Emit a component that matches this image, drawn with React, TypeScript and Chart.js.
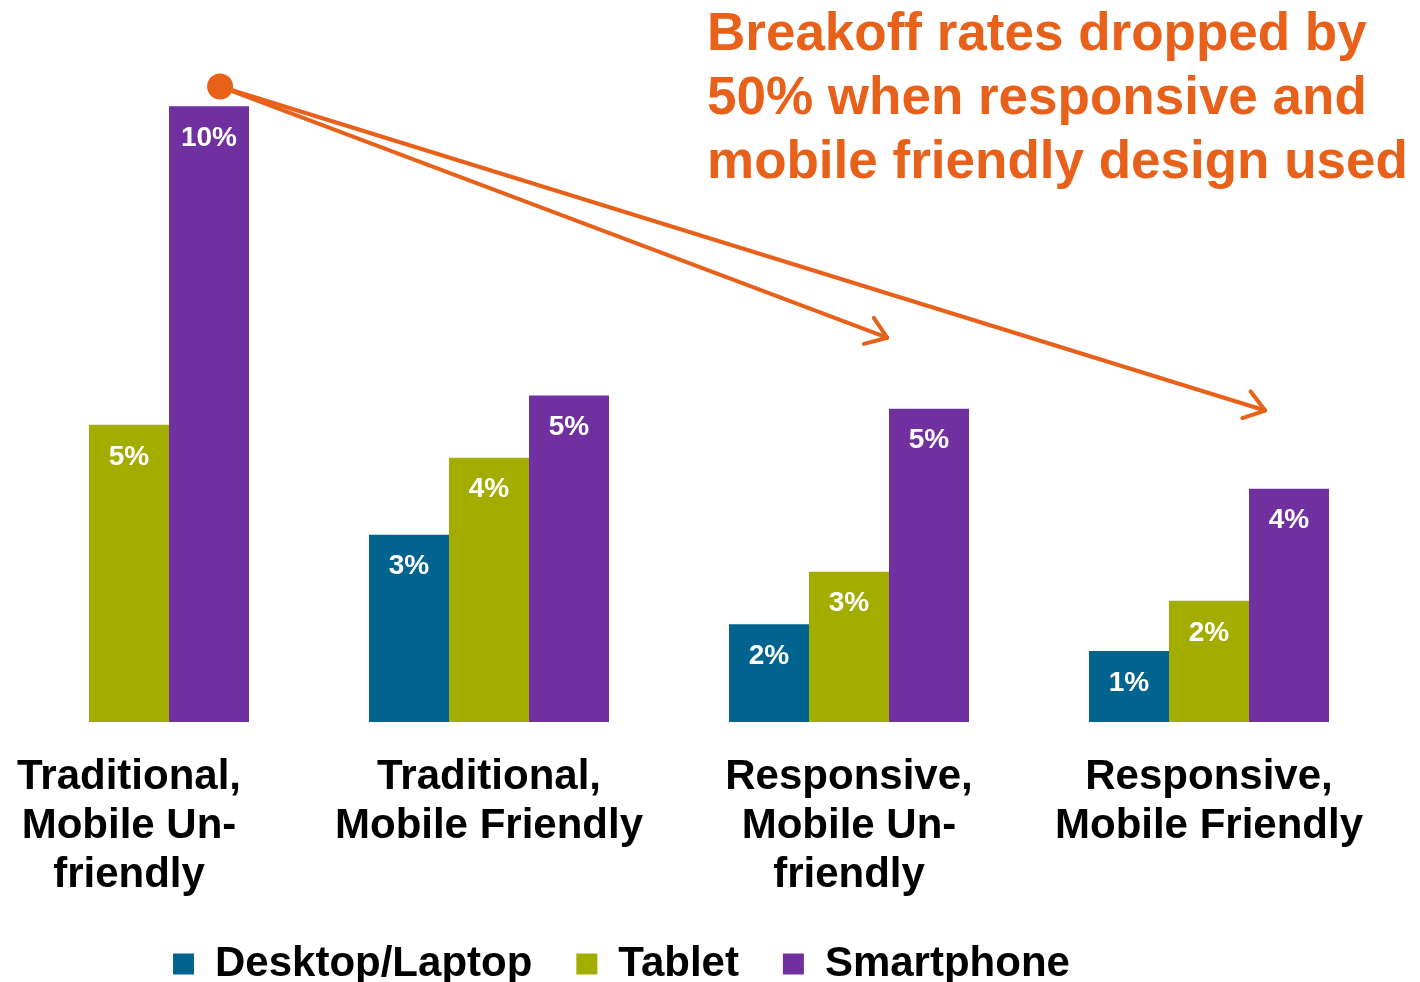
import React, { useEffect, useRef } from 'react';
import { Chart, registerables } from 'chart.js';

Chart.register(...registerables);

const FONT = "'Liberation Sans', Arial, Helvetica, sans-serif";
const ORANGE = '#E8611A';

const categories: string[][] = [
  ['Traditional,', 'Mobile Un-', 'friendly'],
  ['Traditional,', 'Mobile Friendly'],
  ['Responsive,', 'Mobile Un-', 'friendly'],
  ['Responsive,', 'Mobile Friendly'],
];
const seriesNames = ['Desktop/Laptop', 'Tablet', 'Smartphone'];
const desktopValues = [null, 3.14, 1.64, 1.19];
const tabletValues = [4.98, 4.43, 2.52, 2.03];
const smartphoneValues = [10.32, 5.47, 5.25, 3.91];
const seriesColors = ['#00648F', '#A2AD00', '#7030A0'];

const titleLines = [
  'Breakoff rates dropped by',
  '50% when responsive and',
  'mobile friendly design used',
];
// annotation anchors in data space: [category index (fractional), value]
const arrowStart = [0.253, 10.65];
const arrowTargets = [
  [2.106, 6.44],
  [3.156, 5.22],
];

const overlayPlugin = {
  id: 'overlay',
  afterDatasetsDraw(chart: any) {
    const ctx = chart.ctx;
    ctx.save();
    ctx.fillStyle = '#ffffff';
    ctx.font = `bold 28px ${FONT}`;
    ctx.textAlign = 'center';
    ctx.textBaseline = 'middle';
    chart.data.datasets.forEach((ds: any, di: number) => {
      const meta = chart.getDatasetMeta(di);
      meta.data.forEach((el: any, i: number) => {
        const v = ds.data[i];
        if (v === null || v === undefined) return;
        ctx.fillText(`${Math.round(v)}%`, el.x, el.y + 32);
      });
    });
    ctx.restore();
  },
  afterDraw(chart: any) {
    const ctx = chart.ctx;
    const xs = chart.scales.x;
    const ys = chart.scales.y;
    ctx.save();
    const sx = xs.getPixelForValue(arrowStart[0]);
    const sy = ys.getPixelForValue(arrowStart[1]);
    ctx.strokeStyle = ORANGE;
    ctx.fillStyle = ORANGE;
    ctx.lineWidth = 4;
    ctx.lineCap = 'round';
    ctx.lineJoin = 'round';
    arrowTargets.forEach(([tx, tv]) => {
      const ex = xs.getPixelForValue(tx);
      const ey = ys.getPixelForValue(tv);
      ctx.beginPath();
      ctx.moveTo(sx, sy);
      ctx.lineTo(ex, ey);
      ctx.stroke();
      const ang = Math.atan2(ey - sy, ex - sx);
      const L = 24;
      const a = 0.62;
      ctx.beginPath();
      ctx.moveTo(ex - L * Math.cos(ang - a), ey - L * Math.sin(ang - a));
      ctx.lineTo(ex, ey);
      ctx.lineTo(ex - L * Math.cos(ang + a), ey - L * Math.sin(ang + a));
      ctx.stroke();
    });
    ctx.beginPath();
    ctx.arc(sx, sy, 13, 0, Math.PI * 2);
    ctx.fill();

    ctx.font = `bold 53px ${FONT}`;
    ctx.textAlign = 'left';
    ctx.textBaseline = 'middle';
    titleLines.forEach((line, i) => {
      ctx.fillText(line, 707, 35 + i * 64);
    });
    ctx.restore();
  },
};

export default function App() {
  const ref = useRef<HTMLCanvasElement>(null);
  useEffect(() => {
    if (!ref.current) return;
    const seriesValues = [desktopValues, tabletValues, smartphoneValues];
    const chart = new Chart(ref.current, {
      type: 'bar',
      data: {
        labels: categories as any,
        datasets: seriesNames.map((name, i) => ({
          label: name,
          data: seriesValues[i] as any,
          backgroundColor: seriesColors[i],
          borderWidth: 0,
          clip: false as any,
          categoryPercentage: 2 / 3,
          barPercentage: 1,
        })),
      },
      options: {
        responsive: false,
        animation: false,
        devicePixelRatio: 1,
        layout: { padding: { left: 129, right: 211, top: 0, bottom: 0 } },
        plugins: {
          legend: {
            position: 'bottom',
            align: 'start',
            labels: {
              boxWidth: 21,
              boxHeight: 21,
              padding: 44,
              color: '#000',
              font: { family: FONT, size: 42, weight: 'bold' },
            },
          },
          tooltip: { enabled: false },
          title: { display: false },
        },
        scales: {
          x: {
            offset: false,
            grid: { display: false, drawTicks: true, tickLength: 28 },
            border: { display: false },
            ticks: {
              color: '#000',
              font: { family: FONT, size: 42, weight: 'bold', lineHeight: 1.165 },
              padding: 3,
              maxRotation: 0,
              minRotation: 0,
              autoSkip: false,
            },
            afterFit: (s: any) => {
              s.height = 177;
            },
          },
          y: { display: false, min: 0, max: 12.1 },
        },
      } as any,
      plugins: [overlayPlugin],
    });
    return () => chart.destroy();
  }, []);
  return (
    <div
      style={{
        position: 'fixed',
        left: 0,
        top: 0,
        width: 1420,
        height: 982,
        overflow: 'hidden',
        background: '#fff',
      }}
    >
      <canvas
        ref={ref}
        width={1420}
        height={995}
        style={{ display: 'block', width: 1420, height: 995 }}
      />
    </div>
  );
}
